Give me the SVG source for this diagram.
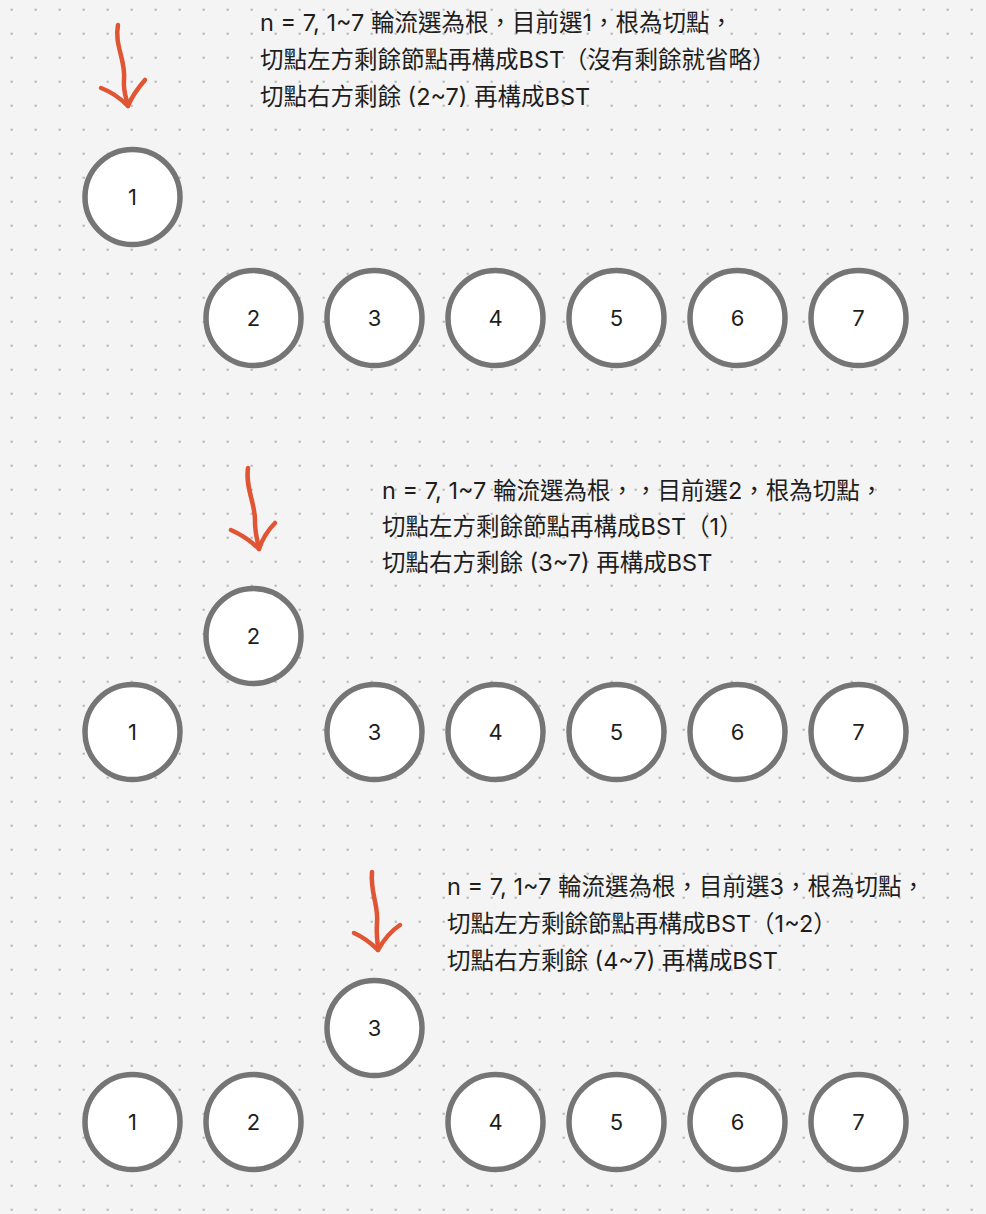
<svg xmlns="http://www.w3.org/2000/svg" width="986" height="1214" viewBox="0 0 986 1214">
<defs>
<pattern id="dots" x="0" y="0" width="24" height="24" patternUnits="userSpaceOnUse">
<circle cx="11.7" cy="9.7" r="1.3" fill="#bdbdbd"/>
</pattern>
<style>
.node circle{fill:#fff;stroke:#757575;stroke-width:5.5}
.node text{font-family:Inter,"Liberation Sans","Noto Sans CJK TC",sans-serif;font-size:22px;fill:#1e1e1e;text-anchor:middle;dominant-baseline:central}
.note{font-family:Inter,"Noto Sans CJK TC",sans-serif;font-size:23.5px;fill:#1e1e1e}
.arrow path{fill:none;stroke:#e05533;stroke-width:4.5;stroke-linecap:round;stroke-linejoin:round}
</style>
</defs>
<rect width="986" height="1214" fill="#f4f4f4"/>
<rect width="986" height="1214" fill="url(#dots)"/>

<g id="connectors" class="arrow">
<path d="M118,25 C114,45 126,60 124,80 C123,92 127,100 128,106"/>
<path d="M101,88 C112,92 120,98 128,106 C132,96 138,88 145,80"/>
<path d="M248,468 C245,488 256,505 255,522 C255,534 258,542 259,549"/>
<path d="M231,530 C242,535 251,541 259,549 C262,540 268,530 275,523"/>
<path d="M372,872 C370,892 379,907 377,923 C376,935 378,944 378,950"/>
<path d="M354,933 C363,937 371,943 378,950 C383,941 391,931 400,925"/>
</g>

<g id="text1">
<text class="note" x="260" y="31">n = 7, 1~7 輪流選為根，目前選1，根為切點，</text>
<text class="note" x="260" y="68">切點左方剩餘節點再構成BST（沒有剩餘就省略）</text>
<text class="note" x="260" y="105">切點右方剩餘 (2~7) 再構成BST</text>
</g>
<g id="text2">
<text class="note" x="382" y="499">n = 7, 1~7 輪流選為根，，目前選2，根為切點，</text>
<text class="note" x="382" y="535">切點左方剩餘節點再構成BST（1）</text>
<text class="note" x="382" y="571">切點右方剩餘 (3~7) 再構成BST</text>
</g>
<g id="text3">
<text class="note" x="447" y="895">n = 7, 1~7 輪流選為根，目前選3，根為切點，</text>
<text class="note" x="447" y="932">切點左方剩餘節點再構成BST（1~2）</text>
<text class="note" x="447" y="969">切點右方剩餘 (4~7) 再構成BST</text>
</g>

<g id="a1" class="node"><circle cx="132.5" cy="197" r="47.5"/><text x="132.5" y="197">1</text></g>
<g id="a2" class="node"><circle cx="253.5" cy="318" r="47.5"/><text x="253.5" y="318">2</text></g>
<g id="a3" class="node"><circle cx="374.5" cy="318" r="47.5"/><text x="374.5" y="318">3</text></g>
<g id="a4" class="node"><circle cx="495.5" cy="318" r="47.5"/><text x="495.5" y="318">4</text></g>
<g id="a5" class="node"><circle cx="616.5" cy="318" r="47.5"/><text x="616.5" y="318">5</text></g>
<g id="a6" class="node"><circle cx="737.5" cy="318" r="47.5"/><text x="737.5" y="318">6</text></g>
<g id="a7" class="node"><circle cx="858.5" cy="318" r="47.5"/><text x="858.5" y="318">7</text></g>

<g id="b2" class="node"><circle cx="253.5" cy="636" r="47.5"/><text x="253.5" y="636">2</text></g>
<g id="b1" class="node"><circle cx="132.5" cy="732" r="47.5"/><text x="132.5" y="732">1</text></g>
<g id="b3" class="node"><circle cx="374.5" cy="732" r="47.5"/><text x="374.5" y="732">3</text></g>
<g id="b4" class="node"><circle cx="495.5" cy="732" r="47.5"/><text x="495.5" y="732">4</text></g>
<g id="b5" class="node"><circle cx="616.5" cy="732" r="47.5"/><text x="616.5" y="732">5</text></g>
<g id="b6" class="node"><circle cx="737.5" cy="732" r="47.5"/><text x="737.5" y="732">6</text></g>
<g id="b7" class="node"><circle cx="858.5" cy="732" r="47.5"/><text x="858.5" y="732">7</text></g>

<g id="c3" class="node"><circle cx="374.5" cy="1028" r="47.5"/><text x="374.5" y="1028">3</text></g>
<g id="c1" class="node"><circle cx="132.5" cy="1122" r="47.5"/><text x="132.5" y="1122">1</text></g>
<g id="c2" class="node"><circle cx="253.5" cy="1122" r="47.5"/><text x="253.5" y="1122">2</text></g>
<g id="c4" class="node"><circle cx="495.5" cy="1122" r="47.5"/><text x="495.5" y="1122">4</text></g>
<g id="c5" class="node"><circle cx="616.5" cy="1122" r="47.5"/><text x="616.5" y="1122">5</text></g>
<g id="c6" class="node"><circle cx="737.5" cy="1122" r="47.5"/><text x="737.5" y="1122">6</text></g>
<g id="c7" class="node"><circle cx="858.5" cy="1122" r="47.5"/><text x="858.5" y="1122">7</text></g>
</svg>
